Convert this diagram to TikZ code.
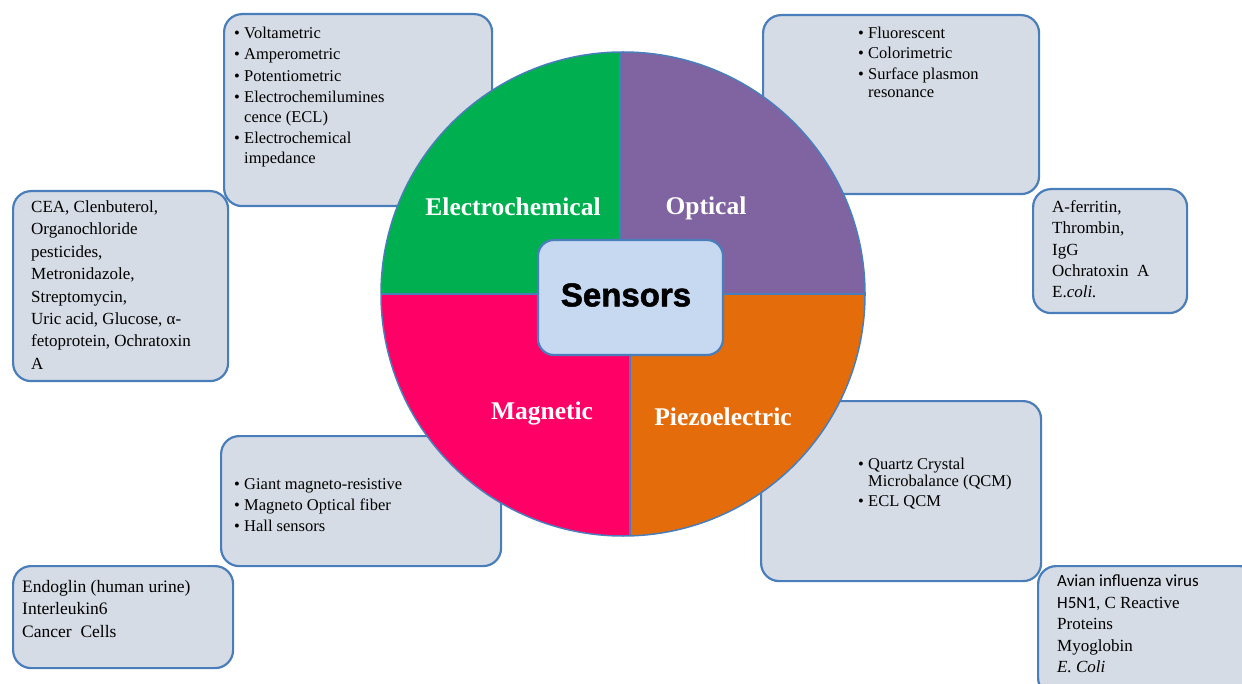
\documentclass[tikz,border=0pt]{standalone}
\usepackage{fontspec}
\setmainfont{Liberation Serif}
\newfontfamily\sensfont[BoldFeatures={FakeBold=1.6}]{Liberation Sans}
\newfontfamily\calfont{Carlito}
\definecolor{boxfill}{HTML}{D6DCE5}
\definecolor{boxline}{HTML}{4A7EBB}
\definecolor{qgreen}{HTML}{00B050}
\definecolor{qpurple}{HTML}{8064A2}
\definecolor{qpink}{HTML}{FF0066}
\definecolor{qorange}{HTML}{E46C0A}
\definecolor{centerfill}{HTML}{C6D9F1}
\newcommand{\bitem}{\makebox[10pt][l]{\textbullet}}
\newcommand{\citem}{\hspace*{10pt}}
\begin{document}
\begin{tikzpicture}[x=1pt,y=-1pt,
  infobox/.style={draw=boxline, fill=boxfill, line width=2.2pt, rounded corners=18pt, anchor=north west, inner sep=0pt},
  boxtext/.style={anchor=north west, inner sep=0pt, align=left, text=black},
  qlabel/.style={text=white, inner sep=0pt, font=\bfseries\fontsize{25.5}{25.5}\selectfont},
  divider/.style={draw=boxline, line width=1.5pt}]
\useasboundingbox (0,0) rectangle (1242,684);
\clip (0,0) rectangle (1242,684);
% boxes
\node[infobox, minimum width=268pt, minimum height=192pt] (emeth) at (223,13) {};
\node[infobox, minimum width=276pt, minimum height=179pt] (ometh) at (762,14) {};
\node[infobox, minimum width=215pt, minimum height=190pt] (eana) at (12,190) {};
\node[infobox, minimum width=154pt, minimum height=124pt] (oana) at (1032,188) {};
\node[infobox, minimum width=280pt, minimum height=130pt] (mmeth) at (220,435) {};
\node[infobox, minimum width=280pt, minimum height=180pt] (pmeth) at (760,400) {};
\node[infobox, minimum width=220pt, minimum height=102pt] (mana) at (12,565) {};
\node[infobox, minimum width=220pt, minimum height=130pt] (pana) at (1037,565) {};
% box texts
\node[boxtext, font=\fontsize{16.5}{21.5}\selectfont] (emethtxt) at (234,26.5) {%
\bitem Voltametric\\
\bitem Amperometric\\
\bitem Potentiometric\\
\bitem Electrochemilumines\\[-2pt]
\citem cence (ECL)\\
\bitem Electrochemical\\[-2pt]
\citem impedance};
\node[boxtext, font=\fontsize{16.5}{20.5}\selectfont] (omethtxt) at (858,26.5) {%
\bitem Fluorescent\\
\bitem Colorimetric\\
\bitem Surface plasmon\\[-2pt]
\citem resonance};
\node[boxtext, font=\fontsize{16.5}{21}\selectfont] (mmethtxt) at (234,478) {%
\bitem Giant magneto-resistive\\
\bitem Magneto Optical fiber\\
\bitem Hall sensors};
\node[boxtext, font=\fontsize{16.5}{20}\selectfont] (pmethtxt) at (858,458) {%
\bitem Quartz Crystal\\[-3pt]
\citem Microbalance (QCM)\\
\bitem ECL QCM};
\node[boxtext, font=\fontsize{17}{22.4}\selectfont] (eanatxt) at (31,200.5) {%
CEA, Clenbuterol,\\
Organochloride\\
pesticides,\\
Metronidazole,\\
Streptomycin,\\
Uric acid, Glucose, α-\\
fetoprotein, Ochratoxin\\
A};
\node[boxtext, font=\fontsize{17}{21.3}\selectfont] (oanatxt) at (1052,200.5) {%
A-ferritin,\\
Thrombin,\\
IgG\\
Ochratoxin\ \ A\\
E.\textit{coli.}};
\node[boxtext, font=\fontsize{17.5}{22.5}\selectfont] (manatxt) at (22,580) {%
Endoglin (human urine)\\
Interleukin6\\
Cancer\ \ Cells};
\node[boxtext, font=\fontsize{17}{21.4}\selectfont] (panatxt) at (1057,575) {%
{\calfont Avian influenza virus}\\
{\calfont H5N1,} C Reactive\\
Proteins\\
Myoglobin\\
\textit{E. Coli}};
% pie
\coordinate (c) at (623,294);
\begin{scope}
\clip (c) circle (242pt);
\fill[qgreen] (370,40) rectangle (620,294);
\fill[qpurple] (620,40) rectangle (880,294);
\fill[qpink] (370,294) rectangle (630,550);
\fill[qorange] (630,294) rectangle (880,550);
\draw[divider] (620,40) -- (620,294) (370,294) -- (880,294) (630,294) -- (630,550);
\end{scope}
\draw[divider] (c) circle (242pt);
\node[qlabel] (lelec) at (513,207) {Electrochemical};
\node[qlabel] (lopt) at (706,208) {Optical};
\node[qlabel] (lmag) at (542,413) {Magnetic};
\node[qlabel] (lpiezo) at (723,417) {Piezoelectric};
\node[draw=boxline, fill=centerfill, line width=2.2pt, rounded corners=16pt, minimum width=185pt, minimum height=115pt, inner sep=0pt] (sensors) at (630.5,297.5) {};
\node[inner sep=0pt, font=\sensfont\bfseries\fontsize{33}{33}\selectfont] (senstxt) at (626,295) {Sensors};
\end{tikzpicture}
\end{document}
